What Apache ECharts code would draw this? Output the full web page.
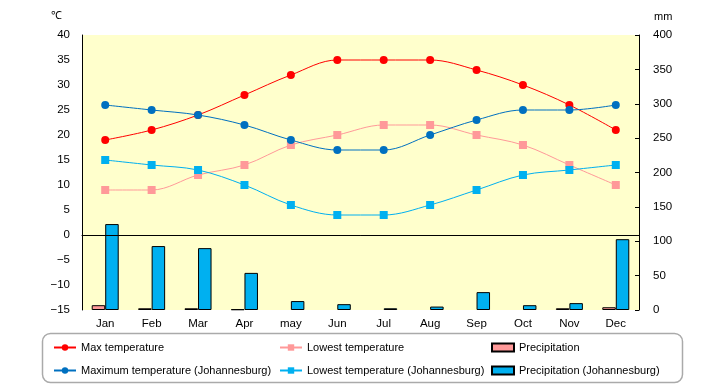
<!DOCTYPE html>
<html><head><meta charset="utf-8">
<script src="https://cdn.jsdelivr.net/npm/echarts@6/dist/echarts.min.js"></script>
<style>html,body{margin:0;padding:0;background:#fff}#c{width:720px;height:385px}</style>
</head><body><div id="c"></div>
<script>
const months = ['Jan','Feb','Mar','Apr','may','Jun','Jul','Aug','Sep','Oct','Nov','Dec'];
const maxTemp = [19,21,24,28,32,35,35,35,33,30,26,21];
const lowTemp = [9,9,12,14,18,20,22,22,20,18,14,10];
const maxTempJ = [26,25,24,22,19,17,17,20,23,25,25,26];
const lowTempJ = [15,14,13,10,6,4,4,6,9,12,13,14];
const precip = [7,2.5,2.5,1,null,null,null,null,null,null,2.5,4];
const precipJ = [125,93,90,54,13,8.5,2.5,5,26,7,10,103];
const tempTicks = {min:-15, max:40, interval:5};
const mmTicks = {min:0, max:400, interval:50};

const names = ['Max temperature','Lowest temperature','Precipitation',
  'Maximum temperature (Johannesburg)','Lowest temperature (Johannesburg)','Precipitation (Johannesburg)'];
const font = 'Liberation Sans';
const chart = echarts.init(document.getElementById('c'), null, {renderer:'canvas'});
const lineS = (name, data, color, sym) => ({
  name, type:'line', data, yAxisIndex:0, smooth:0.35, symbol:sym, symbolSize: 8,
  itemStyle:{color}, lineStyle:{color, width:1}, z:5
});
const legendText = {fontSize:11, fontFamily:font, color:'#000'};
const legendItem = (n, isBar) => isBar ? {name:n, icon:'rect'} : {name:n};
const legendCol = (left, items) => ({left, top:337, orient:'vertical', itemGap:12, itemWidth:22, itemHeight:8,
  data:items, textStyle:legendText});
chart.setOption({
  animation:false,
  textStyle:{fontFamily:font},
  grid:{left:82, right:81, top:35, bottom:75, show:true, backgroundColor:'#ffffcc', borderWidth:0},
  graphic:[
    {type:'text', left:51, top:10, style:{text:'℃', fontSize:11, fontFamily:font, fill:'#000'}},
    {type:'text', left:654, top:11, style:{text:'mm', fontSize:11, fontFamily:font, fill:'#000'}},
    {type:'rect', shape:{x:42.5, y:333.5, width:640, height:49, r:8}, style:{fill:'none', stroke:'#aaa', lineWidth:1.5}}
  ],
  legend:[
    legendCol(48, [legendItem(names[0]), legendItem(names[3])]),
    legendCol(274, [legendItem(names[1]), legendItem(names[4])]),
    legendCol(486, [legendItem(names[2], true), legendItem(names[5], true)])
  ],
  xAxis:{type:'category', data:months, boundaryGap:true,
    axisLine:{lineStyle:{color:'#000'}}, axisTick:{show:false},
    axisLabel:{color:'#000', fontSize:11.5, margin:8}},
  yAxis:[
    {type:'value', min:tempTicks.min, max:tempTicks.max, interval:tempTicks.interval, position:'left',
     axisLine:{show:true, lineStyle:{color:'#000'}}, axisTick:{show:false}, splitLine:{show:false},
     axisLabel:{color:'#000', fontSize:11.5, margin:12, formatter:v => String(v).replace('-', '−')}},
    {type:'value', min:mmTicks.min, max:mmTicks.max, interval:mmTicks.interval, position:'right',
     axisLine:{show:true, lineStyle:{color:'#000'}}, axisTick:{show:true, inside:true, length:4, lineStyle:{color:'#000'}}, splitLine:{show:false},
     axisLabel:{color:'#000', fontSize:11.5, margin:14}}
  ],
  series:[
    Object.assign(lineS(names[0], maxTemp, '#ff0000', 'circle'), {
      markLine:{silent:true, symbol:'none', label:{show:false}, lineStyle:{color:'#000', type:'solid', width:1}, data:[{yAxis:0}]}
    }),
    lineS(names[1], lowTemp, '#ff9999', 'rect'),
    {name:names[2], type:'bar', data:precip, yAxisIndex:1, barWidth:13.5, barGap:'0%',
     itemStyle:{color:'#ff9999', borderColor:'#000', borderWidth:1}},
    lineS(names[3], maxTempJ, '#0070c0', 'circle'),
    lineS(names[4], lowTempJ, '#00b0f0', 'rect'),
    {name:names[5], type:'bar', data:precipJ, yAxisIndex:1, barWidth:13.5, barGap:'0%',
     itemStyle:{color:'#00b0f0', borderColor:'#000', borderWidth:1}}
  ]
});
</script></body></html>
